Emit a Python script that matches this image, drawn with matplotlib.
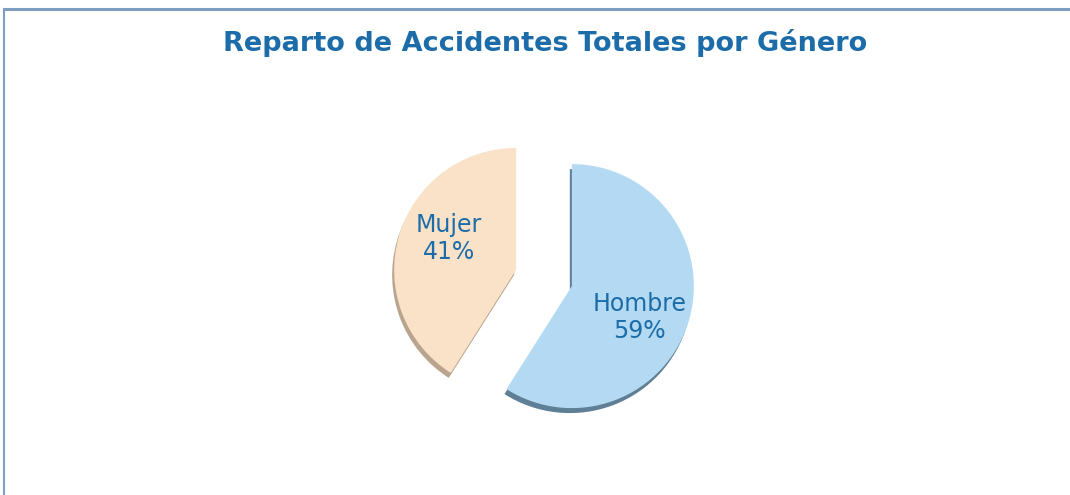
import numpy as np
import matplotlib.pyplot as plt
import matplotlib.lines as mlines

labels = ["Hombre", "Mujer"]
values = [59, 41]
colors = ["#b3daf2", "#f9e2c8"]
shadow_colors = ["#5f7f96", "#b9a58f"]

fig = plt.figure(figsize=(10.7, 4.95), dpi=100)
ax = fig.add_axes([0, 0, 1, 1])

cx, cy, r = 544, 217, 122
# explode offsets are absolute here (axes in pixel units)
explode = [29, 29]

def fmt(pct):
    i = 0 if pct > 50 else 1
    return f"{labels[i]}\n{pct:.0f}%"

# shadow layer, shifted a bit down
ax.pie(values, colors=shadow_colors, startangle=90, counterclock=False,
       explode=explode, radius=r, center=(cx - 2, cy - 5),
       wedgeprops=dict(linewidth=0))
wedges, texts, autotexts = ax.pie(values, colors=colors, startangle=90, counterclock=False,
                                  explode=explode, radius=r, center=(cx, cy),
                                  autopct=fmt, pctdistance=0.6,
                                  wedgeprops=dict(linewidth=0),
                                  textprops=dict(color="#1b6ca8", fontsize=17))

# labels sit a little clockwise of the slice bisector
for w, t in zip(wedges, autotexts):
    ang = np.deg2rad((w.theta1 + w.theta2) / 2 - 9)
    x0, y0 = w.center
    t.set_position((x0 + 0.61 * r * np.cos(ang), y0 + 0.61 * r * np.sin(ang)))
    t.set_linespacing(1.15)

ax.set_aspect("equal")
ax.set_xlim(0, 1070)
ax.set_ylim(0, 495)
ax.axis("off")

fig.text(545 / 1070, 1 - 43 / 495, "Reparto de Accidentes Totales por Género",
         ha="center", va="center", fontsize=19.5, fontweight="bold", color="#1b6ca8")

# frame lines on top and left
fig.add_artist(mlines.Line2D([4 / 1070, 1], [1 - 9 / 495, 1 - 9 / 495],
                             color="#7f9dc0", linewidth=2.2))
fig.add_artist(mlines.Line2D([4 / 1070, 4 / 1070], [0, 1 - 9 / 495],
                             color="#7f9dc0", linewidth=1.5))

fig.savefig("out.png", dpi=100)
